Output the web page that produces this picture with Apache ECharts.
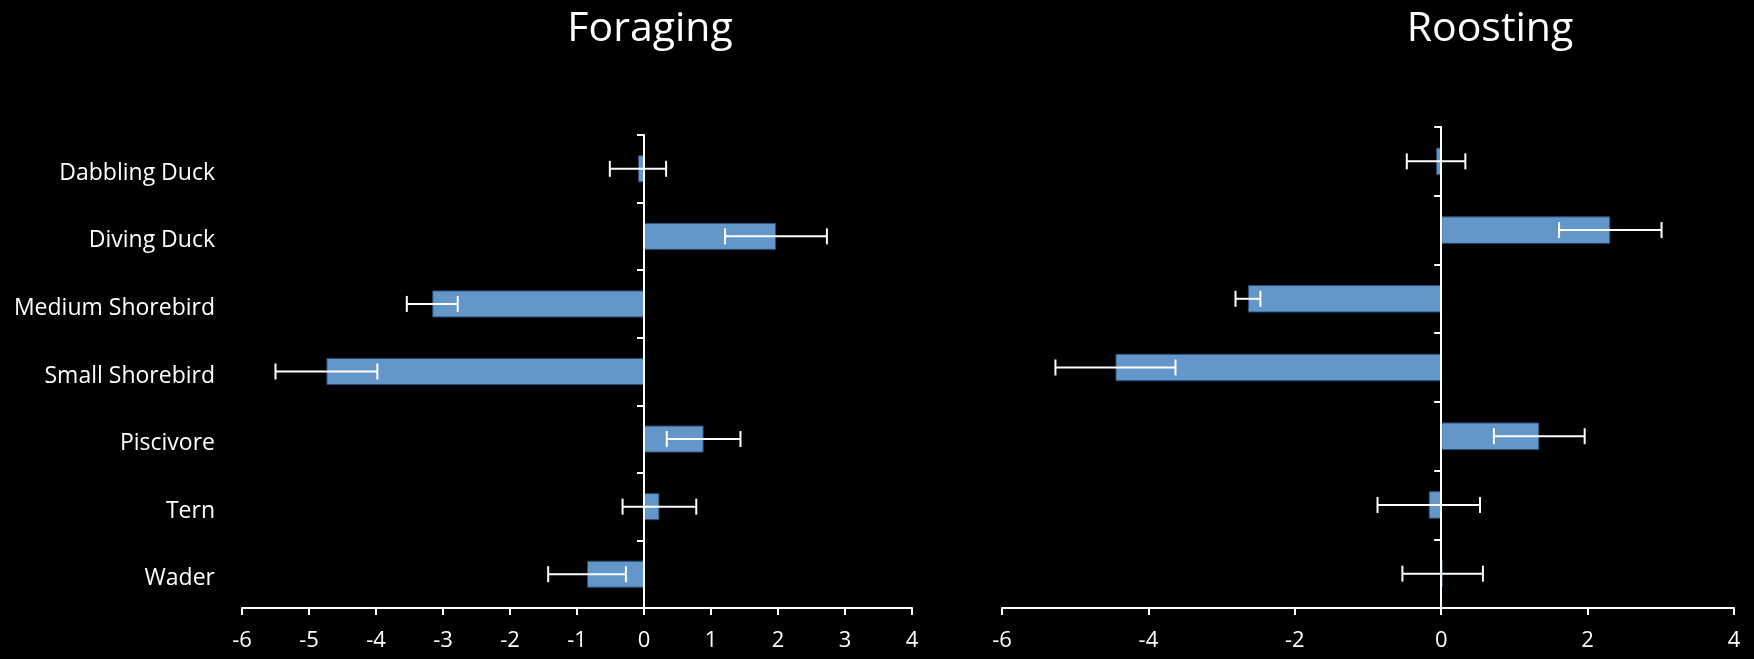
<!DOCTYPE html>
<html>
<head>
<meta charset="utf-8">
<script src="https://cdn.jsdelivr.net/npm/echarts@6/dist/echarts.min.js"></script>
<style>
html,body{margin:0;padding:0;background:#000;}
#chart{width:1754px;height:659px;}
</style>
</head>
<body>
<div id="chart"></div>
<script>
const categories = ['Dabbling Duck','Diving Duck','Medium Shorebird','Small Shorebird','Piscivore','Tern','Wader'];
const foragingMean = [-0.09, 1.97, -3.16, -4.74, 0.89, 0.23, -0.85];
const foragingErr  = [0.42, 0.76, 0.38, 0.76, 0.55, 0.55, 0.58];
const roostingMean = [-0.07, 2.31, -2.64, -4.45, 1.34, -0.17, 0.02];
const roostingErr  = [0.40, 0.70, 0.17, 0.82, 0.62, 0.70, 0.55];
const titles = ['Foraging', 'Roosting'];
const xMin = -6, xMax = 4;
const foragingInterval = 1, roostingInterval = 2;

const FONT = 'Open Sans';
const WHITE = '#ffffff';

function errData(means, errs) {
  return means.map((m, i) => [m, i, errs[i]]);
}

function errRender(params, api) {
  const v = api.value(0), idx = api.value(1), e = api.value(2);
  const p1 = api.coord([v - e, idx]);
  const p2 = api.coord([v + e, idx]);
  const cap = 8;
  const style = { stroke: WHITE, lineWidth: 2, fill: null };
  return {
    type: 'group',
    children: [
      { type: 'line', shape: { x1: p1[0], y1: p1[1], x2: p2[0], y2: p2[1] }, style },
      { type: 'line', shape: { x1: p1[0], y1: p1[1] - cap, x2: p1[0], y2: p1[1] + cap }, style },
      { type: 'line', shape: { x1: p2[0], y1: p2[1] - cap, x2: p2[0], y2: p2[1] + cap }, style }
    ]
  };
}

function xAxis(gridIndex, interval) {
  return {
    type: 'value', gridIndex, min: xMin, max: xMax, interval,
    axisLine: { show: true, onZero: false, lineStyle: { color: WHITE, width: 2 } },
    axisTick: { show: true, length: 7, lineStyle: { color: WHITE, width: 2 } },
    axisLabel: { color: WHITE, fontSize: 22, fontFamily: FONT, margin: 22 },
    splitLine: { show: false }
  };
}

function catAxisLine(gridIndex) {
  return {
    type: 'category', gridIndex, data: categories, inverse: true, z: 5,
    axisLine: { show: true, onZero: true, lineStyle: { color: WHITE, width: 2 } },
    axisTick: { show: true, length: 7, lineStyle: { color: WHITE, width: 2 } },
    axisLabel: { show: false },
    splitLine: { show: false }
  };
}

const barStyle = { color: '#6397CA', borderColor: '#2C4D75', borderWidth: 1 };

const option = {
  backgroundColor: '#000000',
  animation: false,
  title: [
    { text: titles[0], left: 650, top: 9, textAlign: 'center', padding: 0,
      textStyle: { color: WHITE, fontSize: 41, fontWeight: 'normal', fontFamily: FONT } },
    { text: titles[1], left: 1490, top: 9, textAlign: 'center', padding: 0,
      textStyle: { color: WHITE, fontSize: 41, fontWeight: 'normal', fontFamily: FONT } }
  ],
  grid: [
    { left: 242, top: 135, width: 670, height: 473 },
    { left: 1002, top: 127, width: 732, height: 481 }
  ],
  xAxis: [xAxis(0, foragingInterval), xAxis(1, roostingInterval)],
  yAxis: [
    catAxisLine(0),
    {
      type: 'category', gridIndex: 0, data: categories, inverse: true, position: 'left',
      axisLine: { show: false, onZero: false }, axisTick: { show: false },
      axisLabel: {
        margin: 27,
        formatter: v => '{a|' + v + '}',
        rich: { a: { color: WHITE, fontSize: 23, fontFamily: FONT, padding: [9, 0, 0, 0] } }
      },
      splitLine: { show: false }
    },
    catAxisLine(1)
  ],
  series: [
    { type: 'bar', xAxisIndex: 0, yAxisIndex: 0, data: foragingMean, barWidth: '40%', itemStyle: barStyle, z: 2 },
    { type: 'custom', xAxisIndex: 0, yAxisIndex: 0, data: errData(foragingMean, foragingErr),
      renderItem: errRender, encode: { x: 0, y: 1 }, z: 6 },
    { type: 'bar', xAxisIndex: 1, yAxisIndex: 2, data: roostingMean, barWidth: '40%', itemStyle: barStyle, z: 2 },
    { type: 'custom', xAxisIndex: 1, yAxisIndex: 2, data: errData(roostingMean, roostingErr),
      renderItem: errRender, encode: { x: 0, y: 1 }, z: 6 }
  ]
};

const chart = echarts.init(document.getElementById('chart'), null, { renderer: 'canvas' });
chart.setOption(option);
</script>
</body>
</html>
